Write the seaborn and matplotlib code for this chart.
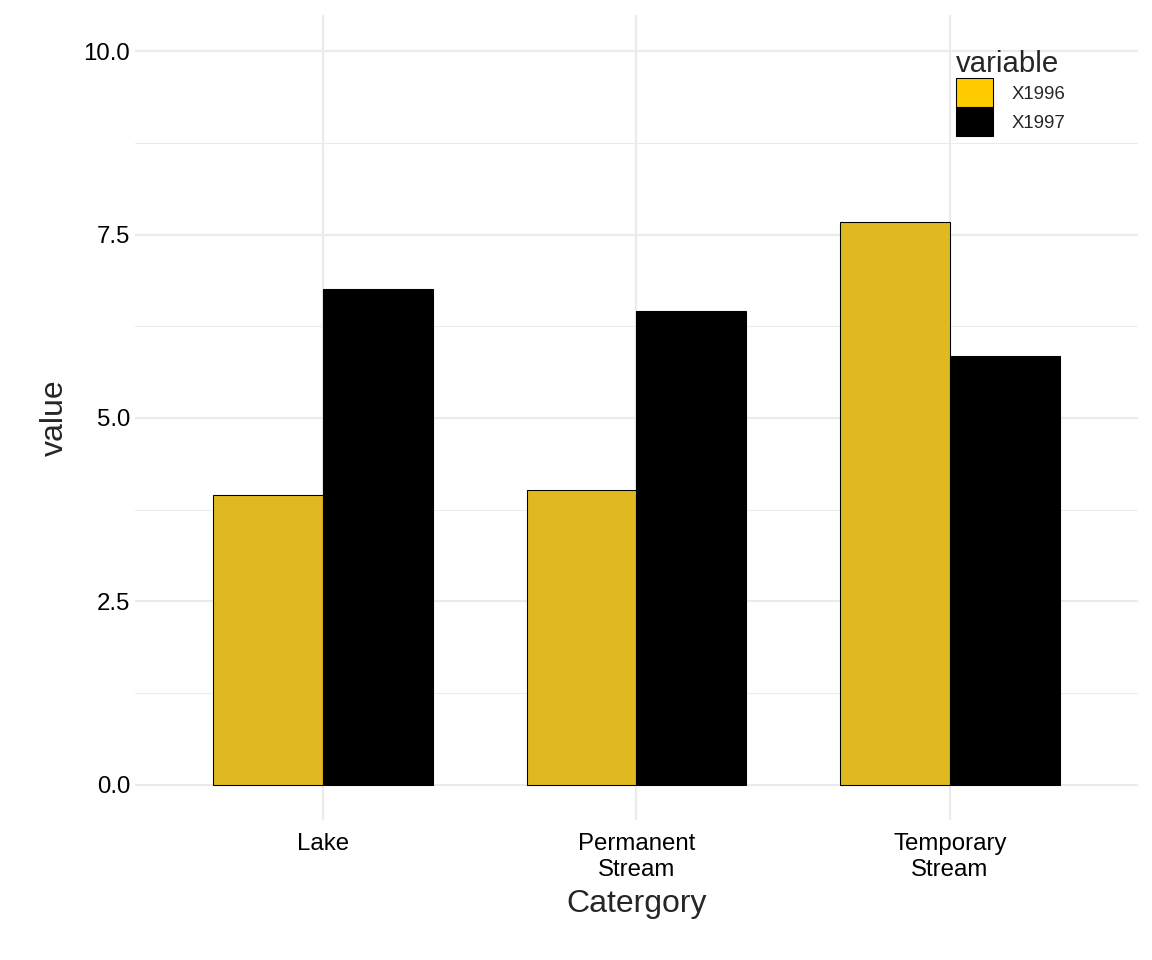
import matplotlib
matplotlib.use("Agg")
import matplotlib.pyplot as plt
import seaborn as sns
import pandas as pd
from matplotlib.patches import Patch

categories = ["Lake", "Permanent\nStream", "Temporary\nStream"]
x1996 = [3.95, 4.02, 7.67]
x1997 = [6.76, 6.46, 5.84]

df = pd.DataFrame({
    "Catergory": categories * 2,
    "variable": ["X1996"] * 3 + ["X1997"] * 3,
    "value": x1996 + x1997,
})

sns.set_theme(style="white")
plt.rcParams['font.family'] = ['Liberation Sans', 'DejaVu Sans']
fig = plt.figure(figsize=(12, 10), dpi=96)
ax = fig.add_axes([0.117, 0.146, 0.871, 0.838])
palette = {"X1996": "#FFCC00", "X1997": "#000000"}
sns.barplot(data=df, x="Catergory", y="value", hue="variable", palette=palette,
            width=0.7, edgecolor="black", linewidth=0.8, ax=ax, legend=False, zorder=3)

ax.set_xlim(-0.6, 2.6)
ax.set_ylim(-0.48, 10.49)
ax.set_yticks([0, 2.5, 5, 7.5, 10])
ax.set_yticklabels(["0.0", "2.5", "5.0", "7.5", "10.0"])
ax.set_yticks([1.25, 3.75, 6.25, 8.75], minor=True)
ax.grid(True, which="major", color="#EBEBEB", linewidth=1.6, zorder=0)
ax.grid(True, which="minor", axis="y", color="#EBEBEB", linewidth=0.8, zorder=0)
for s in ax.spines.values():
    s.set_visible(False)
ax.tick_params(axis="both", which="both", length=0, labelsize=18, colors="#333333", labelcolor="black")
ax.tick_params(axis="x", pad=10)
ax.set_xlabel("Catergory", fontsize=24, labelpad=6)
ax.set_ylabel("value", fontsize=24, labelpad=10)

handles = [Patch(facecolor="#FFCC00", edgecolor="black", linewidth=0.8, label="X1996"),
           Patch(facecolor="#000000", edgecolor="black", linewidth=0.8, label="X1997")]
leg = fig.legend(handles=handles, title="variable", loc="upper left",
                 bbox_to_anchor=(0.815, 0.965), frameon=False, fontsize=14,
                 title_fontsize=22, handlelength=2.0, handleheight=2.0,
                 handletextpad=1.0, labelspacing=0.0)
leg._legend_box.align = "left"
fig.savefig("out.png", dpi=96)
